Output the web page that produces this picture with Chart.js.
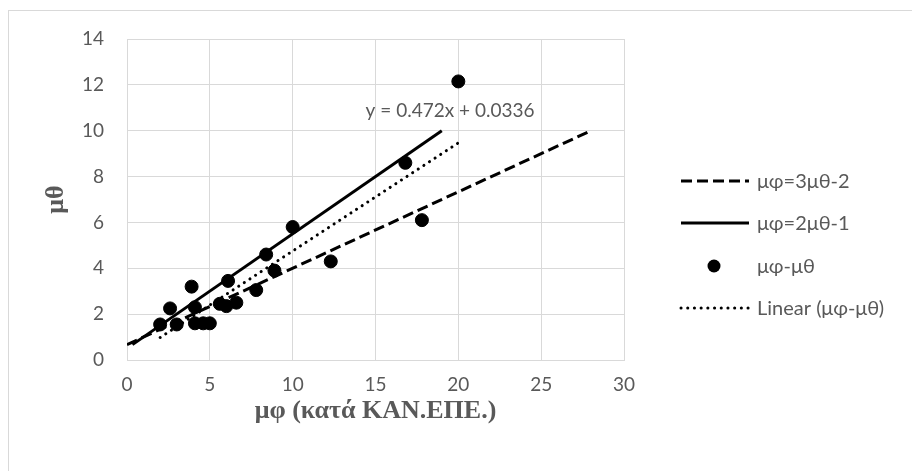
<!DOCTYPE html>
<html lang="el">
<head>
  <meta charset="UTF-8">
  <title>μφ - μθ</title>
  <script src="https://cdn.jsdelivr.net/npm/chart.js"></script>
  <style>
    body { margin: 0; background: #fff; overflow: hidden; }
    .wrap { position: relative; width: 912px; height: 471px; }
    .frame {
      position: absolute; left: 8px; top: 10px; width: 1000px; height: 1000px;
      border-left: 1px solid #d9d9d9; border-top: 1px solid #d9d9d9;
    }
    canvas { position: absolute; left: 0; top: 0; }
  </style>
</head>
<body>
<div class="wrap">
  <div class="frame"></div>
  <canvas id="chart" width="912" height="471"></canvas>
</div>

<script>
  // data
  const pointsX = [2.0, 2.6, 3.0, 3.9, 4.1, 4.1, 4.6, 5.0, 5.6, 6.0, 6.6, 6.1, 7.8, 8.4, 8.9, 10.0, 12.3, 16.8, 17.8, 20.0];
  const pointsY = [1.55, 2.25, 1.55, 3.2, 2.3, 1.6, 1.6, 1.6, 2.45, 2.35, 2.5, 3.45, 3.05, 4.6, 3.9, 5.8, 4.3, 8.6, 6.1, 12.15];

  const line3X = [0, 28];        // μφ=3μθ-2
  const line3Y = [0.67, 10];
  const line2X = [0.33, 19];     // μφ=2μθ-1
  const line2Y = [0.67, 10];
  const trendX = [2, 20];        // Linear (μφ-μθ)
  const trendY = [0.98, 9.47];

  const seriesNames = ['μφ=3μθ-2', 'μφ=2μθ-1', 'μφ-μθ', 'Linear (μφ-μθ)'];
  const equationText = 'y = 0.472x + 0.0336';
  const equationAt = { x: 19.5, y: 10.85 };

  const xTitle = 'μφ (κατά ΚΑΝ.ΕΠΕ.)';
  const yTitle = 'μθ';

  const toXY = (xs, ys) => xs.map((x, i) => ({ x: x, y: ys[i] }));

  const textGrey = '#595959';
  const tickFont = { family: 'Lato', size: 19 };
  const legendFont = { family: 'Lato', size: 20 };
  const titleFont = { family: '"Liberation Serif", serif', size: 26, weight: 'bold', lineHeight: 1.2 };

  // legend at the right, drawn from the datasets
  const sideLegend = {
    id: 'sideLegend',
    afterDraw(chart) {
      const ctx = chart.ctx;
      const rows = [181, 223, 266, 308];
      ctx.save();
      ctx.font = legendFont.size + 'px ' + legendFont.family;
      ctx.textBaseline = 'middle';
      chart.data.datasets.forEach((ds, i) => {
        const y = rows[i];
        if (ds.showLine) {
          ctx.save();
          ctx.strokeStyle = ds.borderColor;
          ctx.lineWidth = ds.borderWidth;
          ctx.lineCap = ds.borderCapStyle || 'butt';
          ctx.setLineDash(ds.borderDash || []);
          ctx.beginPath();
          ctx.moveTo(681, y);
          ctx.lineTo(749, y);
          ctx.stroke();
          ctx.restore();
        } else {
          ctx.beginPath();
          ctx.arc(714, y, ds.pointRadius, 0, Math.PI * 2);
          ctx.fillStyle = ds.backgroundColor;
          ctx.fill();
        }
        ctx.fillStyle = textGrey;
        ctx.fillText(ds.label, 757, y + 1);
      });
      ctx.restore();
    }
  };

  const equationLabel = {
    id: 'equationLabel',
    afterDatasetsDraw(chart) {
      const ctx = chart.ctx;
      const px = chart.scales.x.getPixelForValue(equationAt.x);
      const py = chart.scales.y.getPixelForValue(equationAt.y);
      ctx.save();
      ctx.font = tickFont.size + 'px ' + tickFont.family;
      ctx.fillStyle = textGrey;
      ctx.textAlign = 'center';
      ctx.textBaseline = 'middle';
      ctx.fillText(equationText, px, py);
      ctx.restore();
    }
  };

  new Chart(document.getElementById('chart'), {
    type: 'scatter',
    data: {
      datasets: [
        {
          label: seriesNames[0],
          data: toXY(line3X, line3Y),
          showLine: true,
          borderColor: '#000',
          borderWidth: 3,
          borderDash: [11, 5],
          pointRadius: 0,
          order: 3
        },
        {
          label: seriesNames[1],
          data: toXY(line2X, line2Y),
          showLine: true,
          borderColor: '#000',
          borderWidth: 3,
          pointRadius: 0,
          order: 2
        },
        {
          label: seriesNames[2],
          data: toXY(pointsX, pointsY),
          showLine: false,
          backgroundColor: '#000',
          borderColor: '#000',
          pointRadius: 6.5,
          pointHoverRadius: 6.5,
          order: 1
        },
        {
          label: seriesNames[3],
          data: toXY(trendX, trendY),
          showLine: true,
          borderColor: '#000',
          borderWidth: 3,
          borderDash: [0.1, 6.6],
          borderCapStyle: 'round',
          pointRadius: 0,
          order: 0
        }
      ]
    },
    options: {
      responsive: false,
      animation: false,
      layout: { padding: { left: 8, right: 288, top: 39, bottom: 44 } },
      plugins: {
        legend: { display: false },
        tooltip: { enabled: false }
      },
      scales: {
        x: {
          type: 'linear',
          min: 0,
          max: 30,
          ticks: { stepSize: 5, color: textGrey, font: tickFont, padding: 13 },
          grid: { color: '#d9d9d9', drawTicks: false },
          border: { color: '#d9d9d9' },
          title: { display: true, text: xTitle, color: textGrey, font: titleFont, padding: { top: 0, bottom: 0 } },
          afterFit(scale) { scale.height = 67; }
        },
        y: {
          type: 'linear',
          min: 0,
          max: 14,
          ticks: { stepSize: 2, color: textGrey, font: tickFont, padding: 23 },
          grid: { color: '#d9d9d9', drawTicks: false },
          border: { color: '#d9d9d9' },
          title: { display: true, text: yTitle, color: textGrey, font: titleFont, padding: { top: 33, bottom: 0 } },
          afterFit(scale) { scale.width = 119; }
        }
      }
    },
    plugins: [sideLegend, equationLabel]
  });
</script>
</body>
</html>
